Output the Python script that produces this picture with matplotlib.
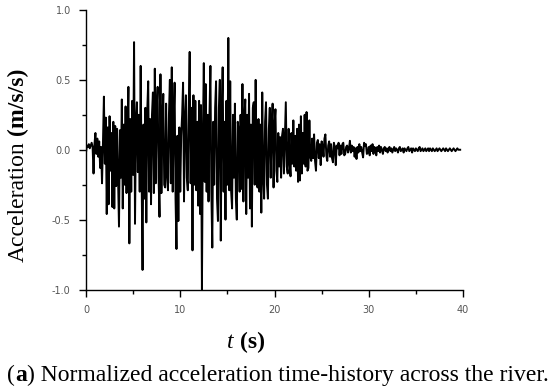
import numpy as np
import matplotlib
matplotlib.use('Agg')
import matplotlib.pyplot as plt
from matplotlib.ticker import MultipleLocator

# acceleration, one value every 0.1 s (0.0 .. 39.7 s)
acc = [
    -0.02, 0.03, 0.02, 0.04, 0.01, 0.03, 0.05, 0.02, -0.17, 0.04,
    0.12, -0.03, 0.08, -0.05, 0.06, -0.13, 0.02, -0.24, 0.05, 0.38,
    -0.10, 0.23, -0.46, 0.16, -0.39, 0.24, -0.15, 0.12, -0.41, 0.20,
    -0.42, 0.17, -0.26, 0.15, -0.22, -0.55, 0.14, -0.20, 0.36, -0.42,
    0.18, -0.25, 0.31, -0.31, 0.10, 0.45, -0.67, 0.22, -0.30, 0.35,
    -0.18, 0.77, -0.53, 0.20, 0.34, -0.16, 0.25, -0.30, 0.60, -0.20,
    -0.86, 0.18, -0.35, 0.30, -0.52, 0.28, 0.49, -0.30, 0.22, -0.39,
    0.25, 0.41, -0.31, 0.58, -0.24, 0.30, 0.45, -0.20, -0.48, 0.54,
    -0.31, 0.20, 0.40, -0.25, -0.27, 0.33, -0.18, -0.29, 0.25, 0.50,
    -0.24, 0.59, -0.30, 0.20, 0.48, -0.35, -0.71, 0.10, -0.51, 0.16,
    -0.30, 0.10, 0.25, 0.48, -0.37, 0.22, 0.39, -0.20, -0.29, 0.30,
    0.70, -0.24, 0.30, -0.72, 0.39, -0.25, 0.35, -0.29, 0.20, -0.40,
    0.35, -0.46, 0.32, -1.00, 0.10, 0.62, -0.23, 0.47, -0.30, 0.25,
    -0.37, 0.25, 0.60, -0.30, -0.70, 0.20, -0.25, 0.30, 0.49, -0.35,
    -0.51, 0.30, 0.50, -0.65, 0.25, 0.59, -0.30, 0.20, -0.50, 0.35,
    -0.25, 0.80, -0.29, 0.49, -0.30, -0.42, 0.25, -0.20, 0.33, -0.35,
    -0.50, 0.20, 0.13, -0.30, 0.25, -0.28, 0.47, -0.37, 0.22, 0.36,
    -0.46, 0.25, -0.20, 0.40, -0.42, 0.18, -0.55, 0.30, 0.34, -0.25,
    0.50, -0.20, -0.27, 0.22, -0.30, 0.18, -0.45, 0.41, -0.20, -0.35,
    0.20, 0.34, -0.25, -0.35, 0.15, 0.30, -0.20, 0.15, 0.33, -0.27,
    0.18, 0.29, -0.15, -0.23, 0.12, -0.12, 0.09, -0.20, 0.10, 0.15,
    -0.17, 0.10, 0.34, -0.12, -0.17, 0.15, -0.08, -0.19, 0.12, -0.10,
    0.21, -0.12, 0.10, -0.15, 0.15, -0.23, 0.18, -0.22, 0.24, -0.17,
    0.12, -0.10, 0.25, -0.12, 0.27, -0.15, -0.13, 0.21, -0.05, -0.08,
    0.08, -0.06, 0.11, -0.08, -0.15, 0.05, 0.07, -0.06, 0.04, -0.11,
    0.06, 0.03, -0.05, 0.08, 0.11, -0.04, -0.08, 0.03, 0.06, -0.05,
    0.04, -0.06, -0.09, 0.05, 0.02, -0.11, 0.03, 0.01, 0.05, -0.04,
    0.03, -0.03, 0.04, 0.05, -0.04, -0.03, 0.02, 0.03, -0.02, 0.01,
    0.064, -0.02, 0.03, -0.01, 0.02, -0.05, 0.01, -0.066, 0.02, -0.02,
    0.04, -0.01, 0.02, -0.02, -0.055, 0.05, 0.03, 0.04, -0.03, -0.02,
    0.02, -0.04, 0.03, -0.01, 0.04, -0.03, 0.02, 0.01, -0.04, 0.02,
    -0.01, 0.03, -0.02, 0.02, 0.00, -0.03, 0.01, 0.02, -0.01, 0.01,
    -0.02, 0.01, 0.02, -0.01, 0.01, -0.02, 0.00, 0.02, -0.01, 0.01,
    0.00, -0.02, 0.01, 0.02, -0.01, 0.00, 0.01, -0.02, 0.01, 0.00,
    -0.01, 0.01, 0.02, -0.01, 0.00, 0.01, -0.02, 0.01, 0.00, -0.01,
    0.01, 0.00, -0.01, 0.01, 0.02, -0.01, 0.00, 0.01, -0.01, 0.00,
    0.01, -0.01, 0.00, 0.01, -0.01, 0.01, 0.00, -0.01, 0.01, 0.00,
    -0.01, 0.00, 0.01, -0.01, 0.00, 0.01, 0.00, -0.01, 0.00, 0.01,
    0.00, -0.01, 0.01, 0.00, -0.01, 0.00, 0.01, 0.00, -0.01, 0.00,
    0.01, 0.00, -0.01, 0.00, 0.01, 0.00, 0.00, 0.00,
]
t = np.arange(len(acc)) * 0.1

xticks = [0, 10, 20, 30, 40]
yticks = [-1.0, -0.5, 0.0, 0.5, 1.0]

W, H = 550, 392
fig = plt.figure(figsize=(W / 100, H / 100), dpi=100)
ax = fig.add_axes([86 / W, 1 - 289.5 / H, (463 - 86) / W, (289.5 - 10) / H])
ax.plot(t, acc, color='black', lw=1.4)
ax.set_xlim(0, 40)
ax.set_ylim(-1, 1)
ax.set_xticks(xticks)
ax.set_yticks(yticks)
ax.set_xticklabels([str(v) for v in xticks])
ax.set_yticklabels(['%.1f' % v for v in yticks])
ax.xaxis.set_minor_locator(MultipleLocator(5))
ax.yaxis.set_minor_locator(MultipleLocator(0.25))
for s in ['top', 'right']:
    ax.spines[s].set_visible(False)
for s in ['left', 'bottom']:
    ax.spines[s].set_linewidth(1.0)
ax.tick_params(which='major', direction='out', length=5, width=1, labelsize=7,
               labelcolor='#555555', pad=6)
ax.tick_params(which='minor', direction='out', length=3, width=1)

r = fig.canvas.get_renderer()
serif = 'Liberation Serif'


def pieces_h(pieces, x0, ybase, size):
    # place text pieces one after another along a baseline (pixels from top-left)
    x = x0
    for s, w, st in pieces:
        if s == ' ':
            x += size * 100 / 72 * 0.25
            continue
        tt = fig.text(x / W, 1 - ybase / H, s, fontsize=size, fontweight=w,
                      fontstyle=st, family=serif, ha='left', va='baseline')
        x += tt.get_window_extent(r).width
    return x


def width_h(pieces, size):
    tot = 0
    for s, w, st in pieces:
        if s == ' ':
            tot += size * 100 / 72 * 0.25
            continue
        tt = fig.text(0, 0, s, fontsize=size, fontweight=w, fontstyle=st, family=serif)
        tot += tt.get_window_extent(r).width
        tt.remove()
    return tot


# y label: "Acceleration (m/s/s)"
ylab = [('Acceleration', 'normal', 'normal'), (' ', 0, 0), ('(m/s/s)', 'bold', 'normal')]
ysize = 17
ylen = width_h(ylab, ysize)
y = 165 + ylen / 2
for s, w, st in ylab:
    if s == ' ':
        y -= ysize * 100 / 72 * 0.25
        continue
    tt = fig.text(23.5 / W, 1 - y / H, s, fontsize=ysize, fontweight=w, fontstyle=st,
                  family=serif, rotation=90, rotation_mode='anchor',
                  ha='left', va='baseline')
    y -= tt.get_window_extent(r).height

# x label: "t (s)"
xlab = [('t', 'normal', 'italic'), (' ', 0, 0), ('(s)', 'bold', 'normal')]
xsize = 17
pieces_h(xlab, 246 - width_h(xlab, xsize) / 2, 348, xsize)

# caption
cap = [('(', 'normal', 'normal'), ('a', 'bold', 'normal'),
       (') Normalized acceleration time-history across the river.', 'normal', 'normal')]
csize = 10 * 541 / width_h(cap, 10)
pieces_h(cap, 7, 381, csize)

fig.savefig('out.png', dpi=100)
